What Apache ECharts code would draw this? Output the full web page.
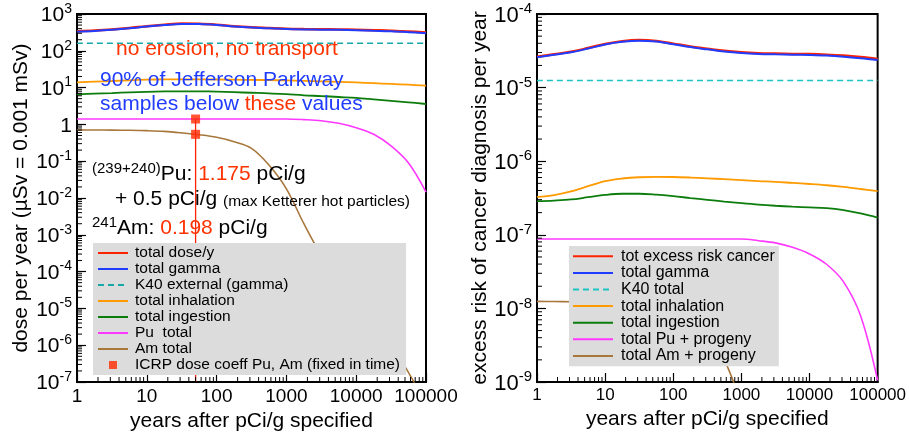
<!DOCTYPE html>
<html>
<head>
<meta charset="utf-8">
<script src="https://cdn.jsdelivr.net/npm/echarts@6/dist/echarts.min.js"></script>
<style>
  html, body { margin: 0; padding: 0; background: #fff; }
  #chart { width: 909px; height: 440px; }
</style>
</head>
<body>
<div id="chart"></div>
<script>
// Sampling years (quarter-decade steps) shared by every curve
const years = [1, 1.78, 3.16, 5.62, 10, 17.8, 31.6, 56.2, 100, 178, 316, 562,
               1000, 1780, 3160, 5620, 10000, 17800, 31600, 56200, 100000];

// ---- Dose per year (µSv) ----
const doseTotal     = [339, 355, 380, 417, 468, 513, 550, 544, 513, 468, 437, 417, 398, 390, 386, 382, 374, 363, 352, 334, 316];
const doseGamma     = [331, 347, 372, 407, 457, 501, 537, 531, 501, 457, 427, 407, 389, 380, 376, 372, 363, 351, 339, 320, 299];
const doseK40       = [160, 160];
const doseInhal     = [13.9, 14.5, 15.1, 15.8, 16.4, 16.7, 16.8, 16.8, 16.6, 16.4, 16.2, 16.0, 15.7, 15.3, 14.8, 14.3, 13.8, 13.2, 12.6, 12.0, 11.3];
const doseIngest    = [6.58, 6.84, 7.11, 7.41, 7.67, 7.85, 7.94, 7.91, 7.76, 7.50, 7.24, 7.00, 6.61, 6.17, 5.89, 5.56, 5.25, 4.79, 4.37, 3.98, 3.58];
const dosePu        = [1.40, 1.40, 1.40, 1.40, 1.40, 1.40, 1.40, 1.40, 1.40, 1.40, 1.40, 1.40, 1.40, 1.35, 1.26, 1.07, 0.81, 0.54, 0.26, 0.089, 0.0145];
const doseAm        = [0.708, 0.705, 0.700, 0.692, 0.676, 0.646, 0.589, 0.525, 0.447, 0.339, 0.224, 0.079, 0.0178, 0.0020, 2.8e-4, 6.3e-5, 1.41e-5, 3.5e-6, 1.0e-6, 1.8e-7, 2.5e-8];
// ICRP fixed-coefficient doses at 50 years (Pu, Am)
const icrpYear      = 50;
const icrpDose      = [1.40, 0.538];

// ---- Excess cancer risk per year ----
const riskTotal     = [2.62e-5, 2.84e-5, 3.07e-5, 3.45e-5, 3.92e-5, 4.27e-5, 4.42e-5, 4.30e-5, 3.96e-5, 3.62e-5, 3.38e-5, 3.16e-5, 3.02e-5, 2.94e-5, 2.90e-5, 2.87e-5, 2.85e-5, 2.80e-5, 2.72e-5, 2.60e-5, 2.45e-5];
const riskGamma     = [2.58e-5, 2.79e-5, 3.02e-5, 3.39e-5, 3.85e-5, 4.19e-5, 4.34e-5, 4.22e-5, 3.89e-5, 3.55e-5, 3.31e-5, 3.09e-5, 2.95e-5, 2.87e-5, 2.83e-5, 2.80e-5, 2.77e-5, 2.72e-5, 2.63e-5, 2.51e-5, 2.37e-5];
const riskK40       = [1.25e-5, 1.25e-5];
const riskInhal     = [3.27e-7, 3.47e-7, 3.89e-7, 4.57e-7, 5.37e-7, 5.82e-7, 6.05e-7, 6.12e-7, 6.10e-7, 6.00e-7, 5.86e-7, 5.69e-7, 5.52e-7, 5.37e-7, 5.25e-7, 5.07e-7, 4.90e-7, 4.71e-7, 4.47e-7, 4.19e-7, 3.91e-7];
const riskIngest    = [2.86e-7, 2.92e-7, 3.02e-7, 3.24e-7, 3.48e-7, 3.61e-7, 3.61e-7, 3.51e-7, 3.35e-7, 3.16e-7, 2.99e-7, 2.83e-7, 2.69e-7, 2.57e-7, 2.48e-7, 2.41e-7, 2.36e-7, 2.30e-7, 2.16e-7, 1.95e-7, 1.71e-7];
const riskPu        = [8.77e-8, 8.77e-8, 8.77e-8, 8.77e-8, 8.77e-8, 8.77e-8, 8.77e-8, 8.77e-8, 8.77e-8, 8.77e-8, 8.77e-8, 8.77e-8, 8.77e-8, 8.32e-8, 7.76e-8, 6.76e-8, 5.50e-8, 3.98e-8, 2.29e-8, 7.94e-9, 1.05e-9];
const riskAm        = [1.245e-8, 1.24e-8, 1.23e-8, 1.216e-8, 1.20e-8, 1.16e-8, 1.10e-8, 1.0e-8, 8.7e-9, 6.8e-9, 4.5e-9, 2.0e-9, 5.0e-10, null, null, null, null, null, null, null, null];

// Axis ranges and tick labels
const xRange = [1, 100000];
// the top bound sits a hair under 1e3 so the log scale keeps one tick per decade
const doseRange = [1e-7, 999.99];
const riskRange = [1e-9, 1e-4];
const xTickLabels = ['1', '10', '100', '1000', '10000', '100000'];

const FONT = '"Liberation Sans", Arial, Helvetica, sans-serif';
const C = {
  red: '#ff2200', blue: '#1f3cff', tealL: '#17a8a8', tealR: '#1ec4c4',
  orange: '#ff9a00', green: '#0c7d0c', magenta: '#ff38ff', brown: '#a8773c'
};

const pair = (xs, ys) => xs.map((x, i) => [x, ys[i]]);
const endsOf = (vals) => [[xRange[0], vals[0]], [xRange[1], vals[1]]];

// Intermediate log ticks (2..9 of each decade)
function minorValues(lo, hi) {
  const out = [];
  for (let d = lo; d < hi; d++) for (let m = 2; m <= 9; m++) out.push(m * Math.pow(10, d));
  return out;
}
const xMinor = minorValues(0, 5);
const doseMinor = minorValues(-7, 3);
const riskMinor = minorValues(-9, -4);

function minorTickSeries(gi, values, dir, fixed) {
  return {
    type: 'custom', xAxisIndex: gi, yAxisIndex: gi, silent: true, clip: false, z: 6,
    data: values.map(v => dir === 'y' ? [fixed, v] : [v, fixed]),
    renderItem: (p, api) => {
      const c = api.coord([api.value(0), api.value(1)]);
      const shape = dir === 'y'
        ? { x1: c[0], y1: c[1], x2: c[0] + 5, y2: c[1] }
        : { x1: c[0], y1: c[1], x2: c[0], y2: c[1] - 5 };
      return { type: 'line', shape, style: { stroke: '#000', lineWidth: 1 } };
    }
  };
}

function line(name, gi, data, color, width, dashed) {
  return {
    name, type: 'line', xAxisIndex: gi, yAxisIndex: gi, data,
    symbol: 'none', showSymbol: false, smooth: 0.35, z: 3,
    lineStyle: { color, width, type: dashed ? [6, 4] : 'solid' },
    itemStyle: { color }
  };
}

function xAxis(gi, labelSize, nameGap) {
  return {
    type: 'log', logBase: 10, gridIndex: gi, min: xRange[0], max: xRange[1], splitNumber: 5,
    axisLine: { show: true, onZero: false, lineStyle: { color: '#000', width: 2 } },
    axisTick: { show: true, inside: true, length: 9, lineStyle: { color: '#000', width: 1.2 } },
    splitLine: { show: false },
    axisLabel: {
      margin: 5, color: '#000', fontSize: labelSize, fontFamily: FONT,
      formatter: v => xTickLabels[Math.round(Math.log10(v))]
    },
    name: 'years after pCi/g specified', nameLocation: 'middle', nameGap,
    nameTextStyle: { color: '#000', fontSize: 21, fontFamily: FONT }
  };
}

function yAxis(gi, range, decades, name, base, sup, oneAsPlain) {
  return {
    type: 'log', logBase: 10, gridIndex: gi, min: range[0], max: range[1], splitNumber: decades,
    axisLine: { show: true, onZero: false, lineStyle: { color: '#000', width: 2 } },
    axisTick: { show: true, inside: true, length: 9, lineStyle: { color: '#000', width: 1.2 } },
    splitLine: { show: false },
    axisLabel: {
      margin: 5, fontFamily: FONT,
      formatter: v => {
        const e = Math.round(Math.log10(v));
        if (e === 0 && oneAsPlain) return '{b|1}';
        return '{b|10}{s|' + e + '}';
      },
      rich: {
        b: { fontSize: base, color: '#000', fontFamily: FONT, lineHeight: base + 3, verticalAlign: 'bottom' },
        s: { fontSize: sup, color: '#000', fontFamily: FONT, lineHeight: sup, verticalAlign: 'top' }
      }
    },
    name, nameLocation: 'middle', nameGap: 45,
    nameTextStyle: { color: '#000', fontSize: 21, fontFamily: FONT }
  };
}

// legend entries: plain line icons (no marker dot); the ICRP marker as a small square
const plainLine = name => ({ name, itemStyle: { opacity: 0 } });
const squareIcon = 'path://M0,0L10,0L10,10L0,10Z';

const leftNames = ['total dose/y', 'total gamma', 'K40 external (gamma)', 'total inhalation',
                   'total ingestion', 'Pu  total', 'Am total'];
const icrpName = 'ICRP dose coeff Pu, Am (fixed in time)';
const rightNames = ['tot excess risk cancer', 'total gamma', 'K40 total', 'total inhalation',
                    'total ingestion', 'total Pu + progeny', 'total Am + progeny'];

const option = {
  animation: false,
  backgroundColor: '#fff',
  textStyle: { fontFamily: FONT },
  grid: [
    { left: 77, top: 14, width: 349, height: 368, show: true, borderColor: '#000', borderWidth: 2 },
    { left: 537, top: 14, width: 348, height: 368, show: true, borderColor: '#000', borderWidth: 2 }
  ],
  xAxis: [xAxis(0, 19, 24), xAxis(1, 17, 26)],
  yAxis: [
    yAxis(0, doseRange, 10, 'dose per year (µSv = 0.001 mSv)', 21, 14, true),
    yAxis(1, riskRange, 5, 'excess risk of cancer diagnosis per year', 22, 15, false)
  ],
  legend: [
    {
      data: leftNames.map(plainLine).concat([{ name: icrpName, icon: squareIcon }]),
      orient: 'vertical', left: 93, top: 243,
      itemWidth: 30, itemHeight: 8, itemGap: 0, symbolKeepAspect: true,
      padding: [2, 6, 2, 4], backgroundColor: '#dcdcdc', borderWidth: 0,
      textStyle: { color: '#000', fontSize: 15.5, lineHeight: 16, fontFamily: FONT, padding: [0, 0, 0, 2] },
      selectedMode: false
    },
    {
      data: rightNames.map(plainLine),
      orient: 'vertical', left: 569, top: 246,
      itemWidth: 40, itemHeight: 8, itemGap: 0,
      padding: [2, 4, 2, 3], backgroundColor: '#dcdcdc', borderWidth: 0,
      textStyle: { color: '#000', fontSize: 16, lineHeight: 16.6, fontFamily: FONT, padding: [0, 0, 0, 3] },
      selectedMode: false
    }
  ],
  graphic: [
    { type: 'text', x: 116, y: 49.5, z: 100,
      style: { text: 'no erosion, no transport', fill: '#ff3300', font: '21px ' + FONT, verticalAlign: 'middle' } },
    { type: 'text', x: 100, y: 80.7, z: 100,
      style: { text: '90% of Jefferson Parkway', fill: '#1f3cff', font: '21px ' + FONT, verticalAlign: 'middle' } },
    { type: 'text', x: 100, y: 104.5, z: 100,
      style: {
        text: '{b|samples below }{r|these}{b| values}', verticalAlign: 'middle',
        rich: {
          b: { fill: '#1f3cff', fontSize: 21, fontFamily: FONT },
          r: { fill: '#ff3300', fontSize: 21, fontFamily: FONT }
        }
      } },
    { type: 'text', x: 92, y: 174, z: 100,
      style: {
        text: '{s|(239+240)}{t|Pu: }{r|1.175}{t| pCi/g}', verticalAlign: 'middle',
        rich: {
          s: { fill: '#000', fontSize: 15, lineHeight: 15, verticalAlign: 'top', fontFamily: FONT },
          t: { fill: '#000', fontSize: 21, lineHeight: 26, fontFamily: FONT },
          r: { fill: '#ff3300', fontSize: 21, lineHeight: 26, fontFamily: FONT }
        }
      } },
    { type: 'text', x: 115, y: 199, z: 100,
      style: {
        text: '{t|+ 0.5 pCi/g }{m|(max Ketterer hot particles)}', verticalAlign: 'middle',
        rich: {
          t: { fill: '#000', fontSize: 21, lineHeight: 21, verticalAlign: 'bottom', fontFamily: FONT },
          m: { fill: '#000', fontSize: 15.5, lineHeight: 15.5, verticalAlign: 'bottom', fontFamily: FONT }
        }
      } },
    { type: 'text', x: 92, y: 228, z: 100,
      style: {
        text: '{s|241}{t|Am: }{r|0.198}{t| pCi/g}', verticalAlign: 'middle',
        rich: {
          s: { fill: '#000', fontSize: 15, lineHeight: 15, verticalAlign: 'top', fontFamily: FONT },
          t: { fill: '#000', fontSize: 21, lineHeight: 26, fontFamily: FONT },
          r: { fill: '#ff3300', fontSize: 21, lineHeight: 26, fontFamily: FONT }
        }
      } }
  ],
  series: [
    // dose panel
    line('total dose/y', 0, pair(years, doseTotal), C.red, 2.5),
    line('total gamma', 0, pair(years, doseGamma), C.blue, 2),
    line('K40 external (gamma)', 0, endsOf(doseK40), C.tealL, 1.6, true),
    line('total inhalation', 0, pair(years, doseInhal), C.orange, 1.8),
    line('total ingestion', 0, pair(years, doseIngest), C.green, 1.8),
    line('Pu  total', 0, pair(years, dosePu), C.magenta, 1.6),
    line('Am total', 0, pair(years, doseAm), C.brown, 1.6),
    {
      type: 'line', xAxisIndex: 0, yAxisIndex: 0, symbol: 'none', z: 3, silent: true,
      data: [[icrpYear, doseRange[0]], [icrpYear, icrpDose[0]]],
      lineStyle: { color: C.red, width: 1.3 }
    },
    {
      name: icrpName, type: 'scatter', xAxisIndex: 0, yAxisIndex: 0, z: 4,
      symbol: 'rect', symbolSize: 9, itemStyle: { color: '#ff2a00' },
      data: icrpDose.map(v => [icrpYear, v])
    },
    // risk panel
    line('tot excess risk cancer', 1, pair(years, riskTotal), C.red, 2.5),
    line('total gamma', 1, pair(years, riskGamma), C.blue, 2),
    line('K40 total', 1, endsOf(riskK40), C.tealR, 1.6, true),
    line('total inhalation', 1, pair(years, riskInhal), C.orange, 1.8),
    line('total ingestion', 1, pair(years, riskIngest), C.green, 1.8),
    line('total Pu + progeny', 1, pair(years, riskPu), C.magenta, 1.6),
    line('total Am + progeny', 1, pair(years, riskAm), C.brown, 1.6),
    // intermediate log ticks
    minorTickSeries(0, doseMinor, 'y', xRange[0]),
    minorTickSeries(0, xMinor, 'x', doseRange[0]),
    minorTickSeries(1, riskMinor, 'y', xRange[0]),
    minorTickSeries(1, xMinor, 'x', riskRange[0])
  ]
};

const chart = echarts.init(document.getElementById('chart'), null, { renderer: 'canvas' });
chart.setOption(option);
</script>
</body>
</html>
